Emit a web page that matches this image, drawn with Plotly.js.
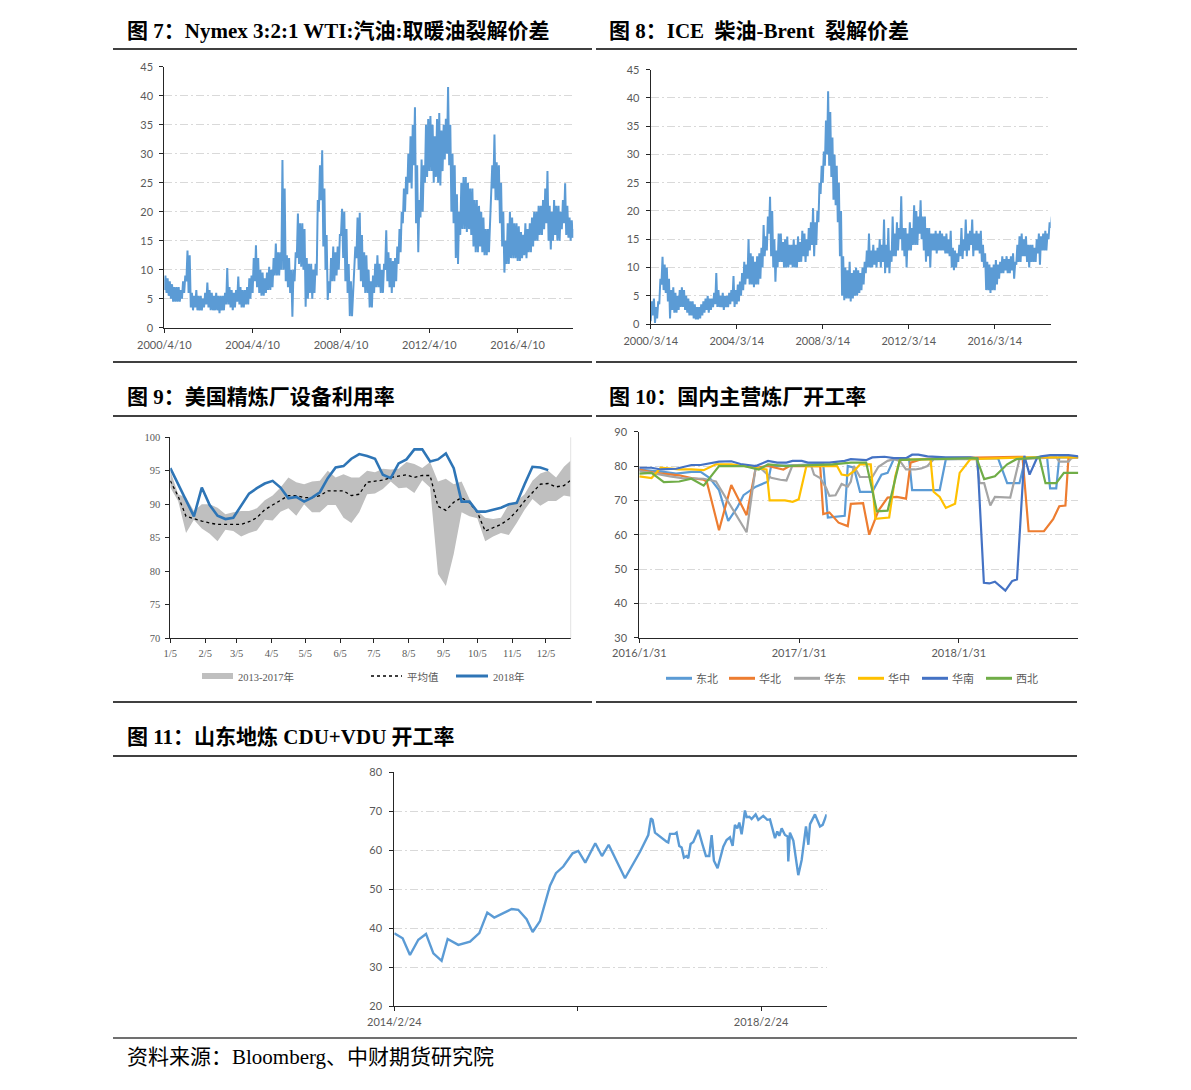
<!DOCTYPE html>
<html>
<head>
<meta charset="utf-8">
<script src="https://cdn.plot.ly/plotly-3.0.1.min.js"></script>
<style>
  html, body { margin: 0; padding: 0; background: #ffffff; }
  #chart { width: 1191px; height: 1090px; }
</style>
</head>
<body>
<div id="chart"></div>
<script>
// ---------- 图7: Nymex 3:2:1 WTI crack, one value every 0.05 year from 2000/4/10 (one row = one year) ----------
const wtiStep = 0.05;
const wtiCrack = [
  6.5,9, 6,8.5, 5.5,8, 5,7.5, 4.5,7, 4.5,7, 4.5,7, 4.5,6.5, 5,8, 6,9,
  8,13.3, 6,12.5, 3.5,6, 3,5.5, 3.5,6.5, 3,5.5, 3,5.5, 3,5, 3.5,6, 4,7.8,
  3.5,6.5, 3,6, 3,5.5, 3,6, 3,5.5, 2.5,5.5, 3,5.5, 3,6, 4,10.3, 4,7,
  3.5,6.5, 3,6, 3.5,6.5, 4.5,8.8, 4,7, 3.5,6.5, 3.5,6.5, 4,7, 4,8.5, 5,9,
  6,12, 8,14.2, 7,12, 6,10, 5.5,9.5, 5.5,8.5, 6,9.5, 6.5,10.5, 6.5,10, 7,12,
  9,14.5, 9,13, 9,13, 10,28.9, 10,24, 8,12.5, 7,12, 6,10, 1.9,10, 8,13,
  12,19.7, 11,18, 10.5,18, 10,17, 3.6,12, 5,11, 6,11, 5,10, 6,11, 9,22,
  20,28, 22,30.6, 14,24, 10,16, 4.8,8, 6,12, 8,14, 8,13, 9,14, 10,16,
  16,20.5, 12,20, 8,17, 6,11, 2,8, 2,6, 8,14, 12,19, 10,19.8, 8,16,
  7,13, 6,12.5, 6,10, 3.5,8, 3.5,9, 6,11, 7,12.5, 7,11, 6,10, 6,11,
  10,16.8, 8,13, 7,12, 6,11.5, 7,12, 8,14, 11,17, 13,20, 18,24, 20,26,
  23,30, 25,33, 24,35, 28,38, 18,28, 13,22, 19,29, 20,28, 25,35, 26,36,
  27,36.5, 27,35, 25,33, 26,36, 25,37, 24.5,34, 27,35, 29,36, 30,41.5, 28,35,
  20,30, 18,28, 12,23, 11,20, 16,25, 17,26, 17,26, 16.5,25, 17,24, 16,24,
  14,22, 13,22, 13,21, 14,20, 13,19, 12.5,17, 12.5,17, 13,19, 22,28, 24,33.3,
  22,28.5, 22,28, 18,25, 14,20, 9.5,15, 11,18, 11,20, 12,19, 12,18, 12,18,
  11.5,17.5, 11.5,16.5, 12,16, 12.5,18, 12,17, 13,18, 13,19, 14,20, 15,20, 15,21,
  16,21, 16,22, 17,24, 18,27, 15,21, 13.5,20, 15,22, 16,21, 15,21, 15,20,
  17,22, 18,24.9, 16,21, 15.5,19, 15,18.5, 15.5,17
];
const wtiTickVals = [0, 4, 8, 12, 16];
const wtiTickText = ['2000/4/10', '2004/4/10', '2008/4/10', '2012/4/10', '2016/4/10'];

// ---------- 图8: ICE gasoil - Brent crack, one value every 0.05 year from 2000/3/14 ----------
const dieselStep = 0.05;
const dieselCrack = [
  0.5,4, 1.5,4.5, 0.2,3, 1,4, 3.5,8, 7,11.9, 6,10.5, 5.5,10, 4,8, 1,6,
  2.5,6.5, 2,5.5, 2,5, 2.5,6, 3,6.5, 3,6, 2.5,5, 2,4.5, 1.5,4, 1.5,4,
  1,3.5, 0.8,3, 0.8,3, 1,3.5, 1.5,4, 2,4.5, 2.5,5, 2,4.5, 2.5,4.5, 3,5.5,
  3.5,9, 3,6, 3,5, 3,5.5, 2.5,5, 3,5, 3,5.5, 3.5,6, 4,8.5, 3,6,
  3.5,7, 4,7.5, 5,9, 6,11, 7,10.5, 8,15, 7,12.5, 7,12, 6.5,11, 7,12,
  7,12.5, 8,13.5, 10,17.5, 12,15.5, 13,19, 16,22.5, 12,20, 10,15, 7.5,13, 10,16,
  11,16, 11,14.5, 10,15, 10,15.5, 10,14, 10.5,14, 10,15, 10,14, 10,15.5, 11,14.5,
  11,16.5, 12,16, 11,15, 12,17, 13,18, 14,20.5, 12,18, 14,20, 18,25, 23,28,
  25,30.5, 28,36, 30,41.2, 28,37.5, 26,33, 22,30, 21,28, 18,25, 12,20, 5,12,
  4.2,10, 4.5,9.5, 4.5,11, 4,9, 4.5,9.5, 5,10, 5,9.5, 5.5,9, 6,10, 7,11,
  9,13, 10,16, 10,13, 10,14, 10.5,13, 10,13.5, 11,15, 10,14, 11,18.5, 9,14,
  10,17, 9,13, 11,19, 12,16, 12,18, 13,17, 15,22.6, 13,17, 12,17, 10,16,
  13,18, 13,17, 14,21, 14,20, 14,19, 16,21.9, 15,19, 13,19, 11,17, 12,17,
  10,16, 13,16, 13,16.5, 12.5,16, 13,16.5, 13,16, 13,15.5, 12.5,16, 12.5,15, 12,16.5,
  10,13.5, 9.5,13, 10,12.5, 11,14, 12,17, 11.5,15, 13,18.5, 12,16, 13,16.5, 14,18.5,
  12,16, 13,16.5, 13,16, 12.5,16.5, 11,14, 10,12.5, 6,11, 6,10.5, 5.5,10, 6,10.5,
  6,11.3, 7,10.5, 8,11, 9,12, 9,11.5, 9.5,12, 9,11.5, 9,12, 9.5,12.5, 8,11,
  10.5,14, 11,15.5, 11,16, 12,15, 12,15.5, 11,14, 10,14, 11,14, 11,13.5, 11,15,
  12.5,16, 10.5,15.5, 13,16, 13,16.5, 13,16, 15,18, 17,19
];
const dieselTickVals = [0, 4, 8, 12, 16];
const dieselTickText = ['2000/3/14', '2004/3/14', '2008/3/14', '2012/3/14', '2016/3/14'];

// ---------- 图9: US refinery utilisation, weekly from 1/5 ----------
const utilLow = [
  92.5, 90.5, 85.7, 87.7, 86.4, 85.6, 84.5, 86.2, 86.0, 85.2,
  85.7, 86.1, 87.7, 87.6, 88.9, 89.4, 88.3, 90.0, 88.8, 88.8,
  89.9, 89.9, 88.0, 87.2, 88.8, 91.5, 91.6, 92.3, 93.4, 92.4,
  92.5, 91.7, 93.6, 92.5, 79.6, 77.8, 82.6, 88.8, 88.2, 87.9,
  84.5, 85.2, 85.7, 85.4, 87.2, 89.2, 90.8, 89.8, 90.5, 90.5,
  91.3, 91.1
];
const utilHigh = [
  95.0, 91.5, 91.0, 89.0, 90.0, 90.0, 89.5, 88.5, 88.8, 89.0,
  89.0, 89.4, 90.6, 91.3, 92.5, 94.0, 93.3, 93.0, 93.4, 93.5,
  95.0, 94.0, 94.5, 94.0, 94.0, 95.0, 94.8, 95.3, 95.2, 95.3,
  96.3, 96.0, 95.4, 96.3, 93.4, 93.8, 93.0, 93.4, 90.8, 89.0,
  88.0, 87.8, 88.0, 90.0, 90.5, 91.5, 93.5, 94.6, 95.0, 94.0,
  95.6, 96.7
];
const utilAvg = [
  93.5, 91.2, 88.2, 87.8, 87.5, 87.2, 87.0, 87.0, 87.0, 87.0,
  87.4, 88.0, 89.2, 89.9, 90.5, 91.3, 91.3, 91.0, 91.0, 91.3,
  92.0, 92.0, 92.0, 91.3, 91.5, 93.3, 93.4, 93.6, 94.0, 94.2,
  94.4, 94.0, 94.3, 94.3, 89.7, 89.1, 90.3, 91.0, 90.2, 88.8,
  86.0, 86.5, 87.0, 87.8, 89.0, 90.5, 91.8, 93.0, 93.1, 92.6,
  92.8, 93.7
];
const util2018 = [
  95.4, 93.0, 90.7, 88.2, 92.5, 89.9, 88.3, 87.8, 88.0, 89.9,
  91.6, 92.4, 93.1, 93.5, 92.5, 90.9, 91.1, 90.4, 91.0, 91.8,
  93.9, 95.5, 95.7, 96.8, 97.5, 97.2, 96.8, 94.4, 93.9, 96.1,
  96.7, 98.2, 98.2, 96.4, 96.7, 97.6, 95.4, 90.4, 90.4, 88.9,
  88.9, 89.2, 89.5, 90.0, 90.2, 93.0, 95.6, 95.5, 95.1
];
const utilMonthDays = [0, 31, 59, 90, 120, 151, 181, 212, 243, 273, 304, 334];
const utilMonthText = ['1/5', '2/5', '3/5', '4/5', '5/5', '6/5', '7/5', '8/5', '9/5', '10/5', '11/5', '12/5'];

// ---------- 图10: domestic major refinery run rates (weeks since 2016/1/31) ----------
const dbW = [0,4,8,12,17,20,23,26,29,32,34,38,42,43,50,58,60,61.5,67,68,70,72,76,79,81,83,88,89,98,100,117,120,124,126,133,134,136,137,143.2];
const dbV = [79,78.7,78.3,77.8,78.3,78.3,76.5,73,64,68,71.5,74,75.5,80,80.3,80.5,80.5,65,65.5,80,79.5,72.5,72.5,77.5,78,82,82,73,73,82,82.3,75,75,82.5,82.7,73.5,73.5,82.5,82.5];
const hbW = [0,5,13,17,21,22,26,30,35,38,42,47,49,59,60,62,65,68,69,73,75,78,81,84,87,88.5,92,100,125,127,132,135,137,139,140,143.2];
const hbV = [79,78,77.3,76.5,76,75.5,61.3,74.5,65.7,79.5,80,79,80,80,66,66.5,63.5,62.5,69,69.2,60,67,70.8,71,70.5,81,82,82.3,82.7,61,61,64.5,68.3,68.5,82.5,82.5];
const hdW = [0,4,10,14,21,25,35,38,40,43,46,48,50,56,57,59,61,62,64,66,68,69,70,72,76,78,81,83,85,87,90,92,94,96,110,111,112.5,114.5,116,121,124,136,137,140,141,143.2];
const hdV = [78.5,78,77,76.5,76.3,75.5,60.7,80,79,76.6,76,75.8,80.3,80.3,77.5,76.5,73.5,71.3,71.5,74.8,74,75.5,80,76.8,76.8,79.8,81.5,82,81.5,79,79,79.3,80,82,82,75,75,68.5,71,70.8,82,82.5,81.3,81.3,82.3,82.5];
const hzW = [0,4,7,13,17,21,25,30,34,38,41.5,42.5,47.5,50,52,54.5,64.5,66,68,70,72,75.5,77,81.5,83.5,85,95,96,98,100,103,104.5,108,125,143.2];
const hzV = [77,76.5,79.5,79,79,78.8,80.5,80.5,80,79.5,79,70,70,69.6,70.3,80,80,77.5,77.2,78.5,80.5,80.5,64.6,65,77,81.8,82,72.5,71,67.8,69,78,82,82.5,82.5];
const hnW = [0,4,7,12,17,20,26,30,33,38,42,45,48,50,53,55,62,67,69,74,76,80,83,87,89,91,94,100,108,110.3,112.4,114.2,116,119.4,121.6,123.2,125.6,127.3,129.8,131,134,140,143.2];
const hnV = [79.5,79.5,79,79.2,80.3,80.3,81.3,81.4,80.6,80,81.5,81,81,81.5,81.5,81,81,81.5,82,81.7,82.5,82.7,82.3,82.3,83.3,83.3,82.8,82.5,82.5,82.2,46,45.8,46.3,43.7,46.5,47,83,77.5,82.5,82.8,83.2,83.2,82.8];
const xbW = [0,4,8,13,17,21,26,34,39,42,48,56,63,69,74,77.5,81,85,110,112.5,116,120,123,130.5,132.5,136,138.5,143.2];
const xbV = [77.8,78,75.3,75.5,76.3,74.3,80,80,79,80.5,80,80.3,80.5,81,81,66.8,67,81.8,82.3,76.2,77,80.5,82,82.5,75,75,78,78];
const regionNames = ['东北', '华北', '华东', '华中', '华南', '西北'];
const regionColors = ['#5B9BD5', '#ED7D31', '#A5A5A5', '#FFC000', '#4472C4', '#70AD47'];
const runTickVals = [0, 52.1, 104.2];
const runTickText = ['2016/1/31', '2017/1/31', '2018/1/31'];

// ---------- 图11: Shandong independent CDU+VDU run rate (years since 2014/2/24) ----------
const cduT = [
  0.000,0.091,0.171,0.262,0.346,0.426,0.516,0.582,0.698,0.826,
  0.927,1.014,1.090,1.188,1.280,1.352,1.443,1.509,1.589,1.698,
  1.763,1.843,1.945,2.007,2.083,2.192,2.265,2.338,2.516,2.680,
  2.770,2.799,2.817,2.843,2.916,2.970,2.988,3.007,3.061,3.079,
  3.108,3.134,3.159,3.188,3.206,3.232,3.261,3.316,3.362,3.399,
  3.435,3.461,3.486,3.526,3.588,3.624,3.661,3.690,3.715,3.741,
  3.763,3.788,3.806,3.824,3.843,3.872,3.897,3.915,3.941,3.970,
  4.024,4.068,4.097,4.152,4.177,4.199,4.225,4.261,4.290,4.297,
  4.315,4.352,4.406,4.443,4.490,4.516,4.534,4.588,4.643,4.672,
  4.697,4.715
];
const cduV = [
  38.7,37.4,33.1,37.0,38.5,33.5,31.6,37.2,35.7,36.5,
  38.7,44.0,42.7,43.8,44.9,44.7,42.3,39.0,41.8,50.9,
  54.1,55.8,59.2,59.8,56.8,61.8,58.5,61.4,52.8,59.6,
  63.9,68.2,67.8,64.5,63.1,62.2,62.0,64.2,64.2,64.5,
  61.1,60.7,58.1,58.5,57.9,61.6,62.1,65.2,61.4,58.5,
  58.5,63.9,57.3,55.4,60.9,62.6,63.3,61.1,66.5,65.6,
  67.1,64.1,66.9,70.2,68.5,68.6,68.0,68.6,69.2,67.8,
  68.8,67.8,67.9,63.1,64.8,63.7,65.6,63.9,63.5,57.1,
  64.5,62.5,53.6,57.5,66.1,61.4,66.7,69.2,66.1,66.5,
  68.2,69.2
];
const cduTickVals = [0, 2, 4];
const cduTickText = ['2014/2/24', '', '2018/2/24'];

// ---------- page geometry helpers (pixel -> paper fraction) ----------
const PW = 1191, PH = 1090;
const fx = p => p / PW;
const fy = p => 1 - p / PH;
const xdom = (a, b) => [fx(a), fx(b)];
const ydom = (top, bottom) => [fy(bottom), fy(top)];

const SANS = 'Lato, "Liberation Sans", "Noto Sans CJK SC", sans-serif';
const SERIF = '"Liberation Serif", "Noto Sans CJK SC", serif';
const TITLE_FONT = '"Liberation Serif", "Noto Sans CJK SC", serif';
const GRID_DASH = '8px,3px,2px,3px';

function axis(extra) {
  return Object.assign({
    showline: true, linecolor: '#262626', linewidth: 1,
    ticks: 'outside', ticklen: 4, tickwidth: 1, tickcolor: '#262626',
    zeroline: false, showgrid: false, fixedrange: true,
    tickfont: { family: SANS, size: 11, color: '#595959' }
  }, extra);
}
function gridY(extra) {
  return axis(Object.assign({
    showgrid: true, gridcolor: '#D9D9D9', gridwidth: 1, griddash: GRID_DASH
  }, extra));
}

const idx = (arr, step) => arr.map((_, i) => i * step);

const traces = [];
// 图7
traces.push({ x: idx(wtiCrack, wtiStep), y: wtiCrack, xaxis: 'x', yaxis: 'y',
  type: 'scatter', mode: 'lines', line: { color: '#5B9BD5', width: 2 } });
// 图8
traces.push({ x: idx(dieselCrack, dieselStep), y: dieselCrack, xaxis: 'x2', yaxis: 'y2',
  type: 'scatter', mode: 'lines', line: { color: '#5B9BD5', width: 2 } });
// 图9: 2013-2017 range band, average, 2018
traces.push({ x: idx(utilLow, 7), y: utilLow, xaxis: 'x3', yaxis: 'y3',
  type: 'scatter', mode: 'lines', line: { color: '#BFBFBF', width: 0 } });
traces.push({ x: idx(utilHigh, 7), y: utilHigh, xaxis: 'x3', yaxis: 'y3',
  type: 'scatter', mode: 'lines', fill: 'tonexty', fillcolor: '#BFBFBF', line: { color: '#BFBFBF', width: 0 } });
traces.push({ x: idx(utilAvg, 7), y: utilAvg, xaxis: 'x3', yaxis: 'y3',
  type: 'scatter', mode: 'lines', line: { color: '#000000', width: 1.3, dash: 'dot' } });
traces.push({ x: idx(util2018, 7), y: util2018, xaxis: 'x3', yaxis: 'y3',
  type: 'scatter', mode: 'lines', line: { color: '#2E75B6', width: 2.6 } });
// 图10
const regionData = [[dbW, dbV], [hbW, hbV], [hdW, hdV], [hzW, hzV], [hnW, hnV], [xbW, xbV]];
regionData.forEach((d, i) => {
  traces.push({ x: d[0], y: d[1], name: regionNames[i], xaxis: 'x4', yaxis: 'y4',
    type: 'scatter', mode: 'lines', line: { color: regionColors[i], width: 2.2 } });
});
// 图11
traces.push({ x: cduT, y: cduV, xaxis: 'x5', yaxis: 'y5',
  type: 'scatter', mode: 'lines', line: { color: '#5B9BD5', width: 2.4 } });

// ---------- titles, rules, legends ----------
const annotations = [];
function txt(text, x, y, font, anchor) {
  annotations.push({ text: text, x: fx(x), y: fy(y), xref: 'paper', yref: 'paper',
    xanchor: anchor || 'left', yanchor: 'middle', showarrow: false, font: font });
}
const titleFont = { family: TITLE_FONT, size: 21, color: '#000000', weight: 'bold' };
const NB = '\u00A0';
txt('图 7：Nymex 3:2:1 WTI:汽油:取暖油裂解价差', 125, 31, titleFont);
txt('图 8：ICE' + NB + NB + '柴油-Brent' + NB + NB + '裂解价差', 607, 31, titleFont);
txt('图 9：美国精炼厂设备利用率', 125, 397, titleFont);
txt('图 10：国内主营炼厂开工率', 607, 397, titleFont);
txt('图 11：山东地炼 CDU+VDU 开工率', 125, 737, titleFont);
txt('资料来源：Bloomberg、中财期货研究院', 125, 1057,
  { family: SERIF, size: 21, color: '#000000' });

const shapes = [];
function hline(x0, x1, y, color, w) {
  shapes.push({ type: 'line', xref: 'paper', yref: 'paper', x0: fx(x0), x1: fx(x1), y0: fy(y), y1: fy(y),
    line: { color: color, width: w } });
}
[49, 362, 416, 702].forEach(y => { hline(113, 592, y, '#000000', 1.3); hline(596, 1077, y, '#000000', 1.3); });
hline(113, 1077, 756, '#000000', 1.3);
hline(113, 1077, 1038, '#404040', 1.6);

// faint right edge of the 图9 plot area
shapes.push({ type: 'line', xref: 'paper', yref: 'paper', x0: fx(570.7), x1: fx(570.7), y0: fy(638.3), y1: fy(437.3),
  line: { color: '#E3E3E3', width: 1 } });

// 图9 legend
const legSerif = { family: SERIF, size: 10.5, color: '#595959' };
shapes.push({ type: 'rect', xref: 'paper', yref: 'paper', x0: fx(202), x1: fx(233), y0: fy(679), y1: fy(673),
  fillcolor: '#BFBFBF', line: { width: 0 } });
txt('2013-2017年', 236, 676.5, legSerif);
shapes.push({ type: 'line', xref: 'paper', yref: 'paper', x0: fx(371), x1: fx(402), y0: fy(676), y1: fy(676),
  line: { color: '#000000', width: 1.3, dash: 'dot' } });
txt('平均值', 405, 676.5, legSerif);
shapes.push({ type: 'line', xref: 'paper', yref: 'paper', x0: fx(456), x1: fx(488), y0: fy(676), y1: fy(676),
  line: { color: '#2E75B6', width: 3 } });
txt('2018年', 491, 676.5, legSerif);

// 图10 legend
const legSans = { family: '"Noto Sans CJK SC", sans-serif', size: 11, color: '#595959' };
const legX = [666, 729, 794, 858, 922, 986];
legX.forEach((x0, i) => {
  shapes.push({ type: 'line', xref: 'paper', yref: 'paper', x0: fx(x0), x1: fx(x0 + 26), y0: fy(678.3), y1: fy(678.3),
    line: { color: regionColors[i], width: 3 } });
  txt(regionNames[i], x0 + 28, 678.3, legSans);
});

const layout = {
  width: PW, height: PH,
  margin: { l: 0, r: 0, t: 0, b: 0, pad: 0 },
  paper_bgcolor: '#ffffff', plot_bgcolor: 'rgba(0,0,0,0)',
  showlegend: false, hovermode: false,
  // 图7
  xaxis: axis({ domain: xdom(164.3, 573.3), anchor: 'y', range: [0, 18.52],
    tickmode: 'array', tickvals: wtiTickVals, ticktext: wtiTickText, ticklabelstandoff: 3 }),
  yaxis: gridY({ domain: ydom(66.7, 327.7), anchor: 'x', range: [0, 45], dtick: 5, tick0: 0, ticklabelstandoff: 4 }),
  // 图8
  xaxis2: axis({ domain: xdom(650.7, 1050.7), anchor: 'y2', range: [0, 18.6],
    tickmode: 'array', tickvals: dieselTickVals, ticktext: dieselTickText, ticklabelstandoff: 3 }),
  yaxis2: gridY({ domain: ydom(69.7, 324), anchor: 'x2', range: [0, 45], dtick: 5, tick0: 0, ticklabelstandoff: 4 }),
  // 图9
  xaxis3: axis({ domain: xdom(170.3, 570.7), anchor: 'y3', range: [0, 356],
    tickmode: 'array', tickvals: utilMonthDays, ticktext: utilMonthText, ticklabelstandoff: 1,
    tickfont: { family: SERIF, size: 10.5, color: '#595959' } }),
  yaxis3: axis({ domain: ydom(437.3, 638.3), anchor: 'x3', range: [70, 100], dtick: 5, tick0: 70, ticklabelstandoff: 3,
    tickfont: { family: SERIF, size: 10.5, color: '#595959' } }),
  // 图10
  xaxis4: axis({ domain: xdom(639.3, 1078.3), anchor: 'y4', range: [0, 143.2],
    tickmode: 'array', tickvals: runTickVals, ticktext: runTickText, ticklabelstandoff: 1 }),
  yaxis4: gridY({ domain: ydom(431.7, 637.7), anchor: 'x4', range: [30, 90], dtick: 10, tick0: 30, ticklabelstandoff: 5 }),
  // 图11
  xaxis5: axis({ domain: xdom(394.3, 826.7), anchor: 'y5', range: [0, 4.716],
    tickmode: 'array', tickvals: cduTickVals, ticktext: cduTickText, ticklabelstandoff: 2 }),
  yaxis5: gridY({ domain: ydom(772.3, 1006), anchor: 'x5', range: [20, 80], dtick: 10, tick0: 20, ticklabelstandoff: 5 }),
  annotations: annotations,
  shapes: shapes
};

Plotly.newPlot('chart', traces, layout, { staticPlot: true, displayModeBar: false });
</script>
</body>
</html>
